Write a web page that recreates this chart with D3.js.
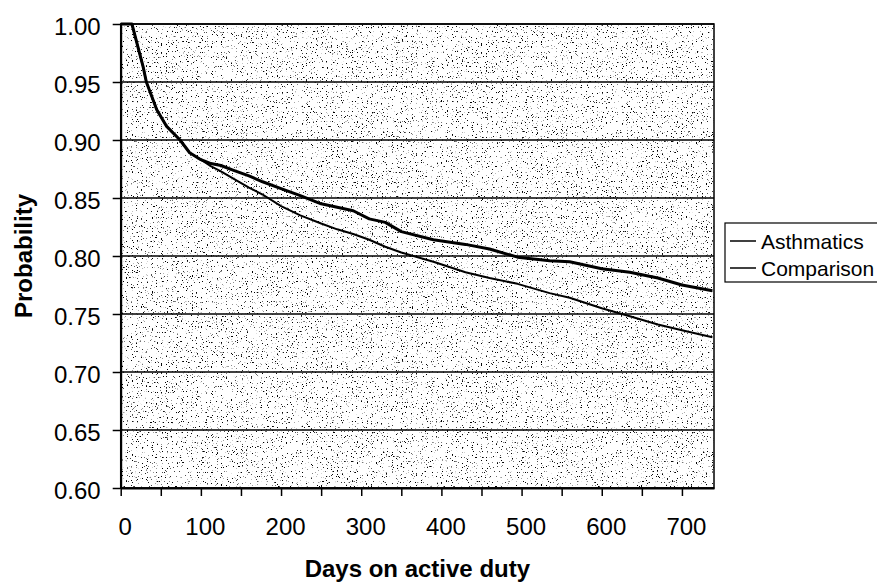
<!DOCTYPE html>
<html lang="en">
<head>
    <meta charset="UTF-8">
    <title>Probability by days on active duty</title>
    <script src="https://d3js.org/d3.v7.min.js"></script>
    <style>
        body {
            margin: 0;
            background: #fff;
            font-family: "Liberation Sans", Arial, sans-serif;
        }
        .tick text {
            font: 24px "Liberation Sans", Arial, sans-serif;
            fill: #000;
        }
        .axis-title {
            font: bold 24px "Liberation Sans", Arial, sans-serif;
        }
        .legend text {
            font: 21px "Liberation Sans", Arial, sans-serif;
        }
    </style>
</head>
<body>
<svg width="877" height="584"></svg>

<script>
    // days, shared by both series
    const days = [0, 14, 28, 32, 45, 57, 74, 86, 100, 111, 125, 140, 160, 177, 200, 224, 250, 270,
                  290, 310, 330, 350, 390, 430, 460, 495, 535, 560, 600, 635, 670, 700, 738];
    const asthmatics = [1.0, 1.0, 0.963, 0.950, 0.926, 0.912, 0.900, 0.889, 0.883, 0.880, 0.878, 0.874,
                        0.869, 0.864, 0.858, 0.852, 0.845, 0.842, 0.839, 0.832, 0.829, 0.821, 0.814,
                        0.810, 0.806, 0.799, 0.796, 0.795, 0.789, 0.786, 0.781, 0.775, 0.770];
    const comparison = [1.0, 1.0, 0.963, 0.950, 0.926, 0.912, 0.900, 0.889, 0.883, 0.878, 0.873, 0.867,
                        0.859, 0.853, 0.843, 0.835, 0.828, 0.823, 0.819, 0.814, 0.808, 0.803, 0.795,
                        0.786, 0.781, 0.776, 0.768, 0.764, 0.755, 0.748, 0.741, 0.736, 0.730];
    const seriesNames = ["Asthmatics", "Comparison"];
    const yTicks = [0.60, 0.65, 0.70, 0.75, 0.80, 0.85, 0.90, 0.95, 1.00];
    const xTicks = d3.range(0, 701, 50);

    const svg = d3.select("svg");
    const plotLeft = 120.7, plotRight = 714, plotTop = 24, plotBottom = 488;

    const x = d3.scaleLinear().domain([0, 740]).range([plotLeft, plotRight]);
    const y = d3.scaleLinear().domain([0.60, 1.00]).range([plotBottom, plotTop]);

    // stippled background via noise filter
    const defs = svg.append("defs");
    const filt = defs.append("filter").attr("id", "stipple")
        .attr("x", 0).attr("y", 0).attr("width", 1).attr("height", 1);
    filt.append("feTurbulence")
        .attr("type", "fractalNoise")
        .attr("baseFrequency", 0.8)
        .attr("numOctaves", 1)
        .attr("seed", 7)
        .attr("result", "noise");
    filt.append("feColorMatrix")
        .attr("in", "noise")
        .attr("type", "matrix")
        .attr("values", "0 0 0 0 0  0 0 0 0 0  0 0 0 0 0  14 0 0 0 -8.9");

    svg.append("rect")
        .attr("x", plotLeft).attr("y", plotTop)
        .attr("width", plotRight - plotLeft).attr("height", plotBottom - plotTop)
        .attr("fill", "#fff");
    svg.append("rect")
        .attr("x", plotLeft).attr("y", plotTop)
        .attr("width", plotRight - plotLeft).attr("height", plotBottom - plotTop)
        .attr("filter", "url(#stipple)");

    // gridlines
    svg.append("g")
        .selectAll("line")
        .data(yTicks)
        .enter().append("line")
            .attr("x1", plotLeft).attr("x2", plotRight)
            .attr("y1", d => y(d)).attr("y2", d => y(d))
            .attr("stroke", "#000")
            .attr("stroke-width", 1.5);

    // plot border
    svg.append("rect")
        .attr("x", plotLeft).attr("y", plotTop)
        .attr("width", plotRight - plotLeft).attr("height", plotBottom - plotTop)
        .attr("fill", "none")
        .attr("stroke", "#000")
        .attr("stroke-width", 1.5);

    // axes
    const yAxis = svg.append("g")
        .attr("transform", `translate(${plotLeft},0)`)
        .call(d3.axisLeft(y).tickValues(yTicks).tickFormat(d3.format(".2f")).tickSize(8).tickSizeOuter(0));
    yAxis.select(".domain").attr("stroke-width", 2);
    yAxis.selectAll(".tick line").attr("stroke-width", 1.5);
    yAxis.selectAll(".tick text").attr("x", -20).attr("dy", null).attr("y", 10);

    const xAxis = svg.append("g")
        .attr("transform", `translate(0,${plotBottom})`)
        .call(d3.axisBottom(x).tickValues(xTicks)
            .tickFormat(d => d % 100 === 0 ? d : "").tickSize(8).tickSizeOuter(0));
    xAxis.select(".domain").attr("stroke-width", 2);
    xAxis.selectAll(".tick line").attr("stroke-width", 1.5);
    xAxis.selectAll(".tick text").attr("dx", 4).attr("y", 47).attr("dy", null);

    // axis titles
    svg.append("text")
        .attr("class", "axis-title")
        .attr("x", (plotLeft + plotRight) / 2)
        .attr("y", 577)
        .attr("text-anchor", "middle")
        .text("Days on active duty");
    svg.append("text")
        .attr("class", "axis-title")
        .attr("transform", `translate(32,${(plotTop + plotBottom) / 2}) rotate(-90)`)
        .attr("text-anchor", "middle")
        .text("Probability");

    // lines
    const line = d3.line()
        .x((d, i) => x(days[i]))
        .y(d => y(d));
    [asthmatics, comparison].forEach((vals, i) => {
        svg.append("path")
            .attr("d", line(vals))
            .attr("fill", "none")
            .attr("stroke", "#000")
            .attr("stroke-width", i === 0 ? 3 : 2)
            .attr("stroke-linejoin", "round");
    });

    // legend
    const legend = svg.append("g").attr("class", "legend");
    legend.append("rect")
        .attr("x", 725).attr("y", 223)
        .attr("width", 170).attr("height", 59)
        .attr("fill", "#fff")
        .attr("stroke", "#000")
        .attr("stroke-width", 1.2);
    seriesNames.forEach((name, i) => {
        const ly = 241 + i * 27;
        legend.append("line")
            .attr("x1", 730).attr("x2", 756)
            .attr("y1", ly).attr("y2", ly)
            .attr("stroke", "#000")
            .attr("stroke-width", 1.5);
        legend.append("text")
            .attr("x", 761)
            .attr("y", ly + 7.5)
            .text(name);
    });
</script>
</body>
</html>
